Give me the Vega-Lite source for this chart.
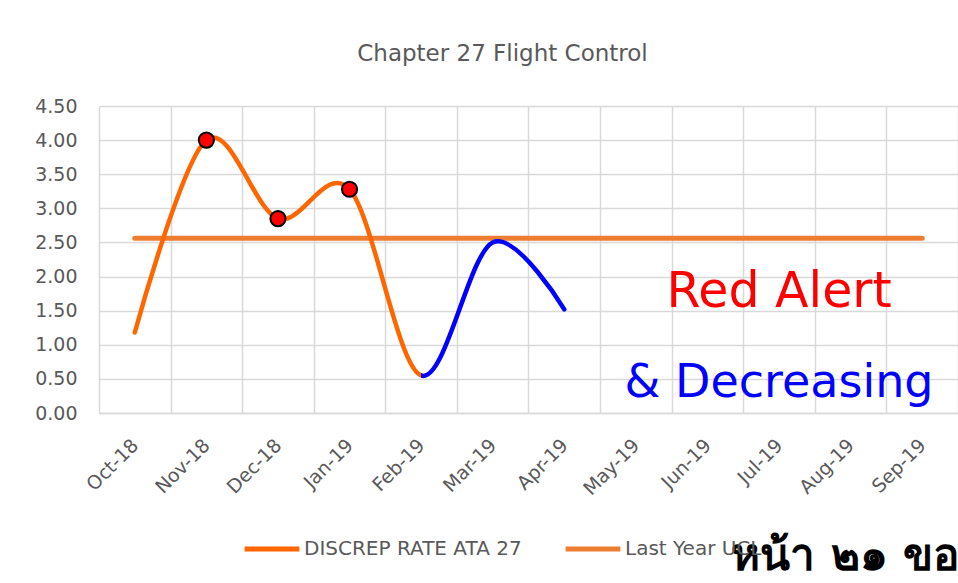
{
  "$schema": "https://vega.github.io/schema/vega-lite/v6.json",
  "autosize": {"type": "none"},
  "width": 859,
  "height": 307,
  "padding": {"left": 99, "top": 106, "right": 0, "bottom": 170},
  "background": "white",
  "config": {
    "font": "DejaVu Sans",
    "view": {"stroke": null},
    "axis": {"labelFont": "DejaVu Sans", "labelColor": "#595959", "gridColor": "#D9D9D9", "gridWidth": 1.5, "ticks": false, "title": null},
    "axisY": {"labelFontSize": 19, "labelPadding": 22, "domain": false, "labelOverlap": false, "format": ".2f"},
    "axisX": {"labelFontSize": 19}
  },
  "title": {
    "text": "Chapter 27 Flight Control",
    "font": "DejaVu Sans",
    "fontSize": 23,
    "fontWeight": "normal",
    "color": "#595959",
    "anchor": "middle",
    "dx": -26,
    "offset": 31
  },
  "datasets": {
    "rate": [
      {"month": "Oct-18", "rate": 1.18, "alert": false},
      {"month": "Nov-18", "rate": 4.00, "alert": true},
      {"month": "Dec-18", "rate": 2.85, "alert": true},
      {"month": "Jan-19", "rate": 3.28, "alert": true},
      {"month": "Feb-19", "rate": 0.55, "alert": false},
      {"month": "Mar-19", "rate": 2.50, "alert": false},
      {"month": "Apr-19", "rate": 1.52, "alert": false}
    ],
    "ucl": [
      {"month": "Oct-18", "ucl": 2.56, "series": "Last Year UCL"},
      {"month": "Nov-18", "ucl": 2.56, "series": "Last Year UCL"},
      {"month": "Dec-18", "ucl": 2.56, "series": "Last Year UCL"},
      {"month": "Jan-19", "ucl": 2.56, "series": "Last Year UCL"},
      {"month": "Feb-19", "ucl": 2.56, "series": "Last Year UCL"},
      {"month": "Mar-19", "ucl": 2.56, "series": "Last Year UCL"},
      {"month": "Apr-19", "ucl": 2.56, "series": "Last Year UCL"},
      {"month": "May-19", "ucl": 2.56, "series": "Last Year UCL"},
      {"month": "Jun-19", "ucl": 2.56, "series": "Last Year UCL"},
      {"month": "Jul-19", "ucl": 2.56, "series": "Last Year UCL"},
      {"month": "Aug-19", "ucl": 2.56, "series": "Last Year UCL"},
      {"month": "Sep-19", "ucl": 2.56, "series": "Last Year UCL"}
    ],
    "note": [{"label": "note"}]
  },
  "encoding": {
    "x": {
      "field": "month",
      "type": "ordinal",
      "scale": {
        "type": "band",
        "domain": ["Oct-18", "Nov-18", "Dec-18", "Jan-19", "Feb-19", "Mar-19", "Apr-19", "May-19", "Jun-19", "Jul-19", "Aug-19", "Sep-19"],
        "paddingInner": 0,
        "paddingOuter": 0
      },
      "axis": {
        "tickBand": "extent",
        "grid": true,
        "domain": true,
        "domainColor": "#D9D9D9",
        "domainWidth": 1.5,
        "labelAngle": -45,
        "labelAlign": "right",
        "labelBaseline": "middle",
        "labelFontSize": 19,
        "labelPadding": 29,
        "labelOverlap": false
      }
    }
  },
  "layer": [
    {
      "data": {"name": "ucl"},
      "mark": {"type": "line", "strokeWidth": 5, "strokeCap": "round"},
      "encoding": {
        "y": {
          "field": "ucl",
          "type": "quantitative",
          "scale": {"domain": [0, 4.5], "nice": false, "zero": true},
          "axis": {"values": [0, 0.5, 1, 1.5, 2, 2.5, 3, 3.5, 4, 4.5], "format": ".2f", "grid": true}
        },
        "color": {
          "field": "series",
          "type": "nominal",
          "scale": {"domain": ["DISCREP RATE ATA 27", "Last Year UCL"], "range": ["#FF6600", "#ED7D31"]},
          "legend": {
            "title": null,
            "orient": "none",
            "direction": "horizontal",
            "legendX": 143,
            "legendY": 413,
            "symbolType": "stroke",
            "symbolStrokeWidth": 5,
            "symbolSize": 3000,
            "labelFontSize": 20,
            "labelColor": "#595959",
            "labelFont": "DejaVu Sans",
            "labelOffset": 2,
            "columnPadding": 33,
            "labelLimit": 400
          }
        }
      }
    },
    {
      "data": {"name": "rate"},
      "mark": {
        "type": "line",
        "interpolate": "cardinal",
        "strokeWidth": 4.5,
        "strokeCap": "round",
        "stroke": {
          "gradient": "linear",
          "x1": 0, "y1": 0, "x2": 1, "y2": 0,
          "stops": [
            {"offset": 0, "color": "#FF6600"},
            {"offset": 0.6667, "color": "#FF6600"},
            {"offset": 0.6667, "color": "#0000FF"},
            {"offset": 1, "color": "#0000FF"}
          ]
        }
      },
      "encoding": {
        "y": {"field": "rate", "type": "quantitative", "axis": {"values": [0, 0.5, 1, 1.5, 2, 2.5, 3, 3.5, 4, 4.5], "format": ".2f", "grid": true}}
      }
    },
    {
      "data": {"name": "rate"},
      "transform": [{"filter": "datum.alert"}],
      "mark": {"type": "point", "filled": true, "fill": "#FF0000", "stroke": "black", "strokeWidth": 2, "size": 230, "opacity": 1},
      "encoding": {
        "y": {"field": "rate", "type": "quantitative", "axis": {"values": [0, 0.5, 1, 1.5, 2, 2.5, 3, 3.5, 4, 4.5], "format": ".2f", "grid": true}}
      }
    },
    {
      "data": {"name": "note"},
      "mark": {"type": "text", "text": "Red Alert", "font": "DejaVu Sans", "fontSize": 49, "color": "#FF0000", "align": "center", "baseline": "alphabetic"},
      "encoding": {
        "x": {"datum": "Jul-19"},
        "y": {"datum": 1.55, "type": "quantitative", "axis": {"values": [0, 0.5, 1, 1.5, 2, 2.5, 3, 3.5, 4, 4.5], "format": ".2f", "grid": true}}
      }
    },
    {
      "data": {"name": "note"},
      "mark": {"type": "text", "text": "& Decreasing", "font": "DejaVu Sans", "fontSize": 46, "color": "#0000FF", "align": "center", "baseline": "alphabetic"},
      "encoding": {
        "x": {"datum": "Jul-19"},
        "y": {"datum": 0.234, "type": "quantitative", "axis": {"values": [0, 0.5, 1, 1.5, 2, 2.5, 3, 3.5, 4, 4.5], "format": ".2f", "grid": true}}
      }
    },
    {
      "data": {"name": "note"},
      "mark": {"type": "text", "text": "หน้า ๒๑ ขอ", "font": "DejaVu Sans", "fontSize": 44, "fontWeight": "bold", "color": "black", "align": "left", "baseline": "alphabetic", "dx": 24},
      "encoding": {
        "x": {"datum": "Jun-19"},
        "y": {"datum": -2.3, "type": "quantitative", "axis": {"values": [0, 0.5, 1, 1.5, 2, 2.5, 3, 3.5, 4, 4.5], "format": ".2f", "grid": true}}
      }
    }
  ]
}
